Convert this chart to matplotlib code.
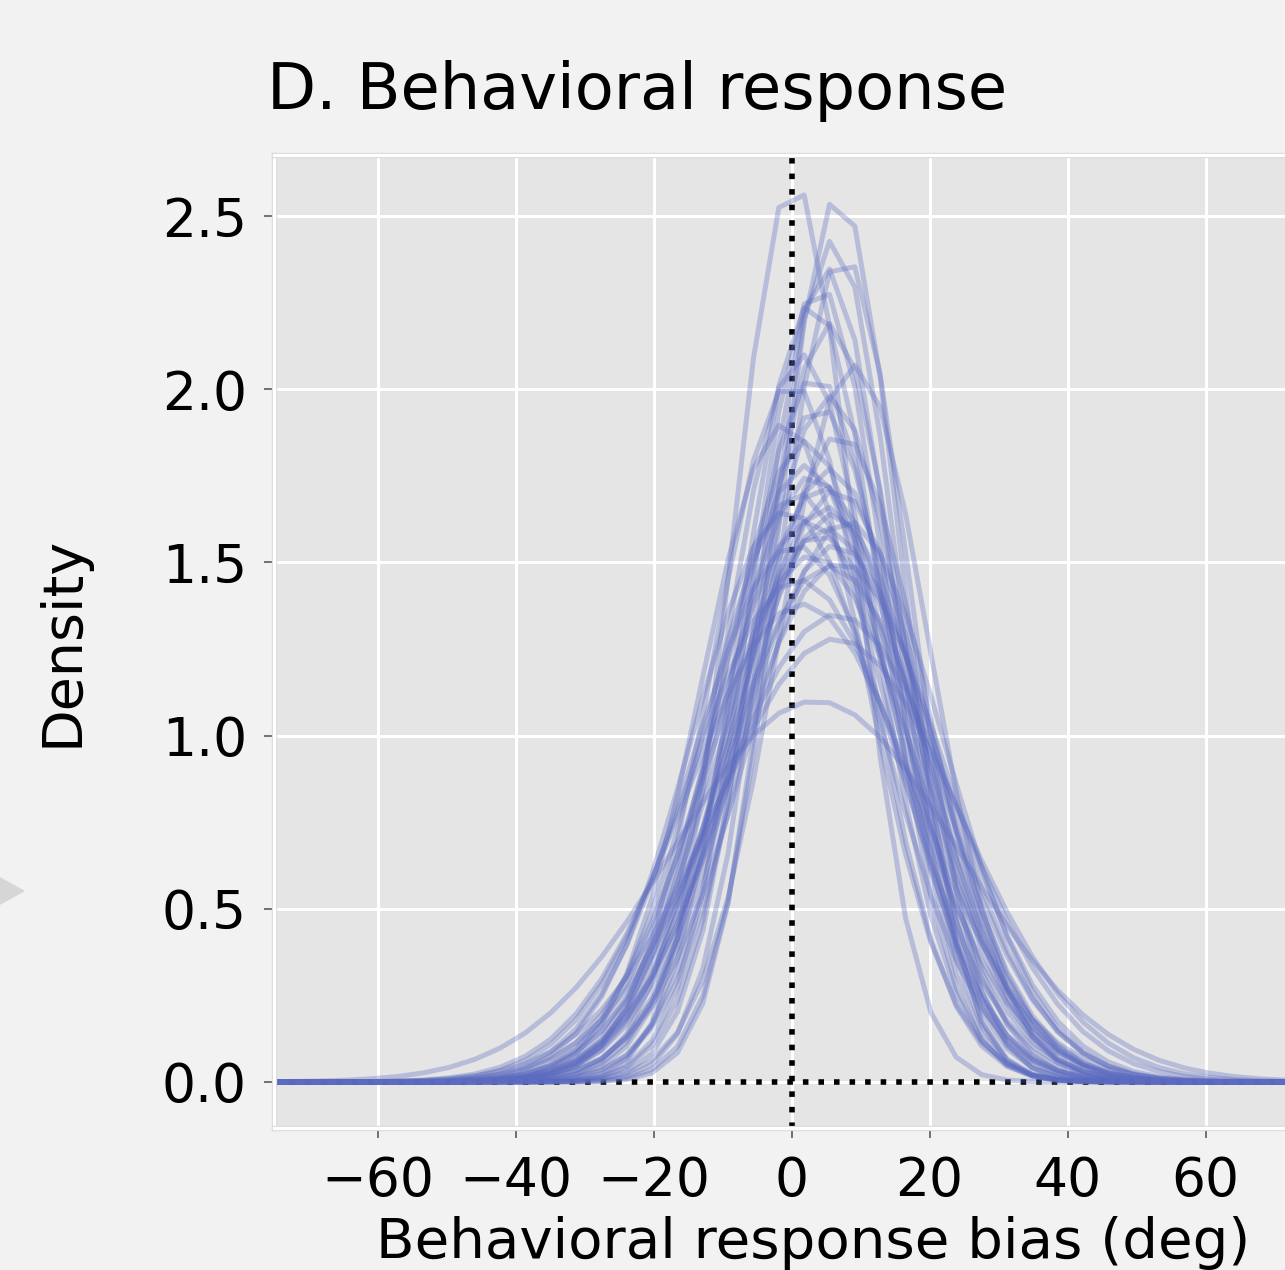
import matplotlib
matplotlib.use('Agg')

import numpy as np
import matplotlib.pyplot as plt
from matplotlib.patches import Polygon
import matplotlib.patheffects as pe

# peak position (deg) and peak height (density per rad) of each subject's curve
peak_deg = [0.3, 6.8, 6.0, 7.5, 5.0, 3.0, 5.5, 9.0, 3.5, 0.0,
            5.5, 7.0, 2.0, 5.5, 4.5, 6.5, 1.0, 5.0, 6.0, -0.5,
            5.0, 4.0, 6.5, 3.0, 5.5, 1.0, 1.5, 6.5, 6.5, 3.5,
            -1.0, 2.0, 4.0, 8.0, 2.5, 3.0, 7.0, 1.5, 4.0, 0.5]
peak_height = [2.60, 2.56, 2.43, 2.39, 2.35, 2.25, 2.19, 2.07, 2.04, 2.02,
               1.98, 1.87, 1.85, 1.77, 1.72, 1.71, 1.70, 1.66, 1.64, 1.65,
               1.60, 1.58, 1.55, 1.52, 1.49, 1.45, 1.38, 1.35, 1.28, 1.10,
               1.90, 1.78, 1.95, 1.62, 1.62, 1.75, 1.50, 2.10, 2.30, 1.55]

xticks = [-60, -40, -20, 0, 20, 40, 60]
yticks = [0.0, 0.5, 1.0, 1.5, 2.0, 2.5]

grid_deg = np.linspace(-90, 90, 50)

fig = plt.figure(figsize=(12.85, 12.7), dpi=100, facecolor='#f2f2f2')
ax = fig.add_axes([274 / 1285, 142 / 1270, 1035 / 1285, 973 / 1270])
ax.set_facecolor('#e5e5e5')

ax.grid(True, color='white', lw=2.2)
ax.set_axisbelow(True)

ax.axvline(0, color='black', lw=4, ls=(0, (1, 1.8)), zorder=1.5)
ax.axhline(0, color='black', lw=4, ls=(0, (1, 1.8)), zorder=1.5)

for mu, h in zip(peak_deg, peak_height):
    sd = 1.0 / (np.sqrt(2 * np.pi) * h)
    z = np.radians(grid_deg - mu) / sd
    dens = h * np.exp(-0.5 * z ** 2)
    ax.plot(grid_deg, dens, color='#5c6bc0', alpha=0.33, lw=3.6, zorder=2)

ax.set_xlim(-75, 75)
ax.set_ylim(-0.133, 2.676)
ax.set_xticks(xticks)
ax.set_yticks(yticks)
ax.set_yticklabels(['%.1f' % v for v in yticks])
ax.tick_params(labelsize=38.5, length=7.5, width=1.3, color='#666666', pad=12)

for s in ax.spines.values():
    s.set_color('white')
    s.set_linewidth(2.5)
    s.set_path_effects([pe.withStroke(linewidth=3.8, foreground='#d4d4d4')])

ax.set_title('D. Behavioral response', loc='left', fontsize=46, pad=33, x=-0.007)
ax.set_ylabel('Density', fontsize=40, labelpad=52)
ax.set_xlabel('Behavioral response bias (deg)', fontsize=40.5, labelpad=10)
ax.xaxis.set_label_coords(0.521, -0.09)
ax.xaxis.label.set_va('top')

# arrow tip of the neighbouring panel (display pixels, origin bottom-left)
fig.patches.append(Polygon([[-20, 404], [25, 379], [-20, 354]], closed=True,
                           transform=None, facecolor='#d6d6d6', edgecolor='none'))

fig.savefig('out.png', dpi=100, facecolor=fig.get_facecolor())
